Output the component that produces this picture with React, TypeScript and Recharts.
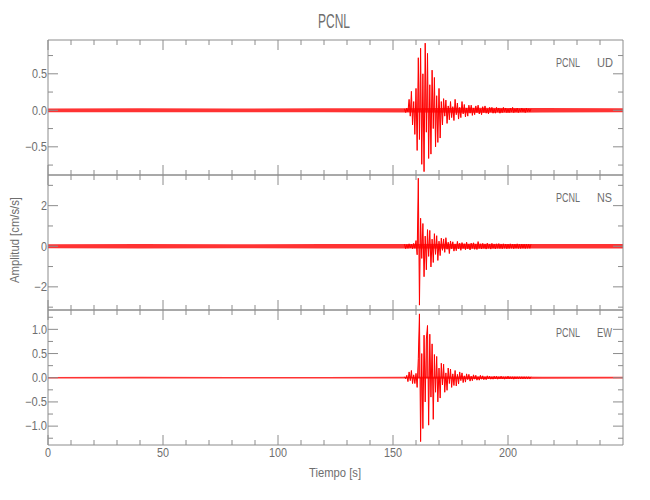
import { ComposedChart, Line, Area, XAxis, YAxis } from "recharts"

// station / component names
const TITLE = "PCNL"
const STATION = "PCNL"
const COMPONENTS = ["UD", "NS", "EW"]

// time axis (s)
const X_DOMAIN = [0, 250]
const X_TICKS = [0, 10, 20, 30, 40, 50, 60, 70, 80, 90, 100, 110, 120, 130, 140, 150, 160, 170, 180, 190, 200, 210, 220, 230, 240]
const X_LABELS = [0, 50, 100, 150, 200]

// amplitude axes (cm/s/s)
const UD_DOMAIN = [-0.886, 0.963]
const UD_TICKS = [-0.75, -0.5, -0.25, 0, 0.25, 0.5, 0.75]
const UD_LABELS = [-0.5, 0, 0.5]
const NS_DOMAIN = [-3.14, 3.51]
const NS_TICKS = [-3, -2, -1, 0, 1, 2, 3]
const NS_LABELS = [-2, 0, 2]
const EW_DOMAIN = [-1.39, 1.4]
const EW_TICKS = [-1.25, -1, -0.75, -0.5, -0.25, 0, 0.25, 0.5, 0.75, 1, 1.25]
const EW_LABELS = [-1, -0.5, 0, 0.5, 1]

// background noise half-width, read at these times
const NOISE_TIMES = [0, 40, 80, 120, 155, 185, 215, 250]
const UD_NOISE = [0.026, 0.028, 0.025, 0.027, 0.029, 0.034, 0.03, 0.027]
const NS_NOISE = [0.1, 0.11, 0.1, 0.105, 0.11, 0.12, 0.11, 0.105]
const EW_NOISE = [0.016, 0.018, 0.015, 0.016, 0.018, 0.028, 0.021, 0.018]

// event waveform, sampled every 0.5 s from 155 s
const WAVE_START = 155
const WAVE_STEP = 0.5
const UD_WAVE = [
  0.02, -0.03, 0.03, -0.02, 0.15, -0.08, 0.26, -0.2, 0.12, -0.33,
  0.3, -0.55, 0.72, -0.4, 0.85, -0.74, 0.5, -0.84, 0.92, -0.3,
  0.78, -0.66, 0.35, -0.6, 0.55, -0.25, 0.45, -0.5, 0.2, -0.44,
  0.3, -0.38, 0.12, -0.2, 0.16, -0.08, 0.14, -0.18, 0.06, -0.13,
  0.12, -0.1, 0.05, -0.14, 0.15, -0.06, 0.1, -0.12, 0.04, -0.1,
  0.12, -0.05, 0.08, -0.09, 0.03, -0.08, 0.07, -0.04, 0.07, -0.07,
  0.03, -0.06, 0.06, -0.03, 0.07, -0.05, 0.02, -0.06, 0.05, -0.03,
  0.06, -0.04, 0.02, -0.05, 0.04, -0.02, 0.04, -0.04, 0.02, -0.04,
  0.04, -0.02, 0.03, -0.04, 0.02, -0.03, 0.04, -0.02, 0.03, -0.03,
  0.02, -0.03, 0.03, -0.02, 0.04, -0.03, 0.02, -0.02, 0.03, -0.03,
  0.02, -0.02, 0.03, -0.02, 0.02, -0.03, 0.03, -0.02, 0.02, -0.02, 0.02,
]
const NS_WAVE = [
  0.1, -0.12, 0.08, -0.1, 0.12, -0.08, 0.1, -0.12, 0.14, -0.1,
  0.28, -0.42, 3.35, -2.9, 1.38, -0.6, 1.12, -1.5, 0.5, -1.16,
  0.82, -0.5, 0.78, -1.02, 0.35, -0.8, 0.62, -0.4, 0.52, -0.7,
  0.25, -0.46, 0.4, -0.2, 0.36, -0.3, 0.42, -0.15, 0.2, -0.36,
  0.26, -0.12, 0.22, -0.24, 0.1, -0.22, 0.24, -0.12, 0.15, -0.2,
  0.18, -0.1, 0.12, -0.17, 0.2, -0.12, 0.1, -0.18, 0.15, -0.1,
  0.17, -0.15, 0.1, -0.16, 0.23, -0.1, 0.12, -0.13, 0.14, -0.1,
  0.1, -0.14, 0.15, -0.1, 0.1, -0.14, 0.14, -0.1, 0.1, -0.13,
  0.12, -0.1, 0.13, -0.11, 0.1, -0.12, 0.12, -0.1, 0.11, -0.12,
  0.1, -0.11, 0.12, -0.1, 0.11, -0.12, 0.1, -0.1, 0.12, -0.11,
  0.1, -0.11, 0.11, -0.1, 0.1, -0.11, 0.11, -0.1, 0.1, -0.1, 0.1,
]
const EW_WAVE = [
  0.02, -0.02, 0.05, -0.08, 0.12, -0.06, 0.15, -0.12, 0.06, -0.12,
  0.09, -0.2, 0.4, 1.32, -1.32, 0.5, -1.05, 0.88, -0.5, 0.8,
  1.08, -0.98, 0.9, -0.4, 0.7, -0.86, 0.48, -0.3, 0.44, -0.5,
  0.2, -0.42, 0.3, -0.15, 0.28, -0.3, 0.1, -0.26, 0.2, -0.12,
  0.18, -0.2, 0.08, -0.16, 0.15, -0.17, 0.07, -0.13, 0.12, -0.06,
  0.1, -0.1, 0.04, -0.09, 0.08, -0.04, 0.07, -0.07, 0.03, -0.06,
  0.06, -0.03, 0.05, -0.05, 0.02, -0.05, 0.05, -0.03, 0.04, -0.04,
  0.02, -0.04, 0.04, -0.02, 0.03, -0.03, 0.02, -0.03, 0.03, -0.02,
  0.03, -0.03, 0.02, -0.02, 0.03, -0.02, 0.02, -0.03, 0.02, -0.02,
  0.03, -0.02, 0.02, -0.02, 0.02, -0.03, 0.02, -0.02, 0.02, -0.02,
  0.02, -0.02, 0.02, -0.02, 0.02, -0.02, 0.02, -0.02, 0.02, -0.02, 0.02,
]

const AXIS = "#8c8c8c"
const TEXT = "#6e6e6e"
const RED = "#ff0000"
const FONT = "'Liberation Sans', Arial, sans-serif"
const PLOT_LEFT = 48
const PLOT_RIGHT = 623
const PANEL_H = 135
const MAJOR = 10
const MINOR = 5

const labelWidth = (s: string) =>
  s.split("").reduce((w, c) => w + (c === "." ? 3 : c === "\u2212" ? 7 : 6), 0)

const fmt = (v: number, dec: number) => {
  const s = Math.abs(v).toFixed(dec)
  return v < 0 ? "\u2212" + s : s
}

type PanelProps = {
  top: number
  wave: number[]
  noise: number[]
  domain: number[]
  ticks: number[]
  labels: number[]
  decimals: number
  comp: string
  showX: boolean
}

const Panel = ({ top, wave, noise, domain, ticks, labels, decimals, comp, showX }: PanelProps) => {
  const waveRows = wave.map((v, i) => ({ t: WAVE_START + i * WAVE_STEP, v }))
  const noiseRows = NOISE_TIMES.map((t, i) => ({ t, band: [-noise[i], noise[i]] }))

  const bottomTick = (p: any) => {
    const major = X_LABELS.includes(p.payload.value)
    const s = String(p.payload.value)
    return (
      <g>
        <line x1={p.x} x2={p.x} y1={p.y} y2={p.y - (major ? MAJOR : MINOR)} stroke={AXIS} />
        {showX && major && (
          <text x={p.x} y={p.y + 12} textAnchor="middle" fontSize={12} fontFamily={FONT} fill={TEXT}
            textLength={labelWidth(s)} lengthAdjust="spacingAndGlyphs">{s}</text>
        )}
      </g>
    )
  }
  const topTick = (p: any) => {
    const major = X_LABELS.includes(p.payload.value)
    return <line x1={p.x} x2={p.x} y1={p.y} y2={p.y + (major ? MAJOR : MINOR)} stroke={AXIS} />
  }
  const leftTick = (p: any) => {
    const major = labels.includes(p.payload.value)
    const s = fmt(p.payload.value, decimals)
    return (
      <g>
        <line x1={p.x} x2={p.x + (major ? MAJOR : MINOR)} y1={p.y} y2={p.y} stroke={AXIS} />
        {major && (
          <text x={p.x - 1} y={p.y + 4.3} textAnchor="end" fontSize={12} fontFamily={FONT} fill={TEXT}
            textLength={labelWidth(s)} lengthAdjust="spacingAndGlyphs">{s}</text>
        )}
      </g>
    )
  }
  const rightTick = (p: any) => {
    const major = labels.includes(p.payload.value)
    return <line x1={p.x} x2={p.x - (major ? MAJOR : MINOR)} y1={p.y} y2={p.y} stroke={AXIS} />
  }

  // axes take 1px each, so margins are reduced by 1 to keep the plot box in place
  return (
    <div style={{ position: "absolute", left: 0, top: 0 }}>
      <ComposedChart
        width={650}
        height={500}
        margin={{ top: top - 1, bottom: 500 - top - PANEL_H - 1, left: PLOT_LEFT - 1, right: 650 - PLOT_RIGHT - 1 }}
      >
        <XAxis xAxisId="b" type="number" dataKey="t" domain={X_DOMAIN} ticks={X_TICKS} interval={0}
          allowDataOverflow height={1} tickSize={0} tickMargin={0} tickLine={false}
          axisLine={{ stroke: AXIS }} tick={bottomTick} />
        <XAxis xAxisId="t" orientation="top" type="number" dataKey="t" domain={X_DOMAIN} ticks={X_TICKS}
          interval={0} allowDataOverflow height={1} tickSize={0} tickMargin={0} tickLine={false}
          axisLine={{ stroke: AXIS }} tick={topTick} />
        <YAxis yAxisId="l" type="number" domain={domain} ticks={ticks} interval={0} allowDataOverflow
          width={1} tickSize={0} tickMargin={0} tickLine={false} axisLine={{ stroke: AXIS }} tick={leftTick} />
        <YAxis yAxisId="r" orientation="right" type="number" domain={domain} ticks={ticks} interval={0}
          allowDataOverflow width={1} tickSize={0} tickMargin={0} tickLine={false}
          axisLine={{ stroke: AXIS }} tick={rightTick} />
        <Area xAxisId="b" yAxisId="l" data={noiseRows} dataKey="band" type="linear" stroke="none"
          fill={RED} fillOpacity={0.8} isAnimationActive={false} />
        <Area xAxisId="b" yAxisId="l" data={waveRows} dataKey="v" type="linear" baseValue={0} stroke="none"
          fill={RED} fillOpacity={0.65} isAnimationActive={false} />
        <Line xAxisId="b" yAxisId="l" data={waveRows} dataKey="v" type="linear" stroke={RED}
          strokeWidth={1} dot={false} isAnimationActive={false} />
      </ComposedChart>
      <svg width={650} height={500} style={{ position: "absolute", left: 0, top: 0 }}>
        <text y={top + 26.5} fontSize={12} fontFamily={FONT} fill={TEXT}>
          <tspan x={556} textLength={24} lengthAdjust="spacingAndGlyphs">{STATION}</tspan>
          <tspan x={597} textLength={comp === "UD" ? 16 : 15} lengthAdjust="spacingAndGlyphs">{comp}</tspan>
        </text>
      </svg>
    </div>
  )
}

export default function App() {
  return (
    <div style={{ position: "absolute", left: 0, top: 0, width: 650, height: 500, background: "#fff" }}>
      <Panel top={40} wave={UD_WAVE} noise={UD_NOISE} domain={UD_DOMAIN} ticks={UD_TICKS}
        labels={UD_LABELS} decimals={1} comp={COMPONENTS[0]} showX={false} />
      <Panel top={175} wave={NS_WAVE} noise={NS_NOISE} domain={NS_DOMAIN} ticks={NS_TICKS}
        labels={NS_LABELS} decimals={0} comp={COMPONENTS[1]} showX={false} />
      <Panel top={310} wave={EW_WAVE} noise={EW_NOISE} domain={EW_DOMAIN} ticks={EW_TICKS}
        labels={EW_LABELS} decimals={1} comp={COMPONENTS[2]} showX={true} />
      <svg width={650} height={500} style={{ position: "absolute", left: 0, top: 0 }}>
        <text x={334} y={28} textAnchor="middle" fontSize={20} fontFamily={FONT} fill={TEXT}
          textLength={32} lengthAdjust="spacingAndGlyphs">{TITLE}</text>
        <text x={335} y={477} textAnchor="middle" fontSize={13} fontFamily={FONT} fill={TEXT}
          textLength={52} lengthAdjust="spacingAndGlyphs">Tiempo  [s]</text>
        <text transform="translate(19,240) rotate(-90)" textAnchor="middle" fontSize={13} fontFamily={FONT}
          fill={TEXT} textLength={86} lengthAdjust="spacingAndGlyphs">Amplitud  [cm/s/s]</text>
      </svg>
    </div>
  )
}
